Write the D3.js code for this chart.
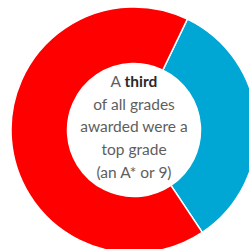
<!DOCTYPE html>
<html><head><meta charset="utf-8">
<script src="https://cdn.jsdelivr.net/npm/d3@7"></script>
<style>html,body{margin:0;padding:0;background:#fff;}</style>
</head><body>
<svg id="c" width="249" height="249"></svg>
<script>
const categories = ["Top grade (A* or 9)", "Other grades"];
const values = [33.5, 66.5];
const colors = ["#00a6d4", "#ff0000"];
const labelLines = [
  [{t:"A ", b:false},{t:"third", b:true}],
  [{t:"of all grades", b:false}],
  [{t:"awarded were a", b:false}],
  [{t:"top grade", b:false}],
  [{t:"(an A* or 9)", b:false}]
];

const svg = d3.select("#c");
const cx = 134, cy = 130, rOuter = 123, rInner = 66.5;
const startDeg = 25.7;
const pie = d3.pie().sort(null).value(d => d)
  .startAngle(startDeg*Math.PI/180).endAngle(startDeg*Math.PI/180 + 2*Math.PI);
const arc = d3.arc().innerRadius(rInner).outerRadius(rOuter);
const g = svg.append("g").attr("transform", `translate(${cx},${cy})`);
g.selectAll("path").data(pie(values)).join("path")
  .attr("d", arc)
  .attr("fill", (d,i) => colors[i])
  .attr("stroke", "#fff").attr("stroke-width", 1.5);

const txt = g.append("g");
const lh = 22.8, firstBase = 86.8 - cy;
labelLines.forEach((line, i) => {
  const t = txt.append("text")
    .attr("x", 0).attr("y", firstBase + i*lh)
    .attr("text-anchor", "middle")
    .style("font-family", "Lato, sans-serif")
    .style("font-size", "15.5px");
  line.forEach(s => t.append("tspan").text(s.t)
    .attr("font-weight", s.b ? 700 : 400)
    .attr("fill", s.b ? "#2a2a2a" : "#5e5e5e"));
});
</script>
</body></html>
